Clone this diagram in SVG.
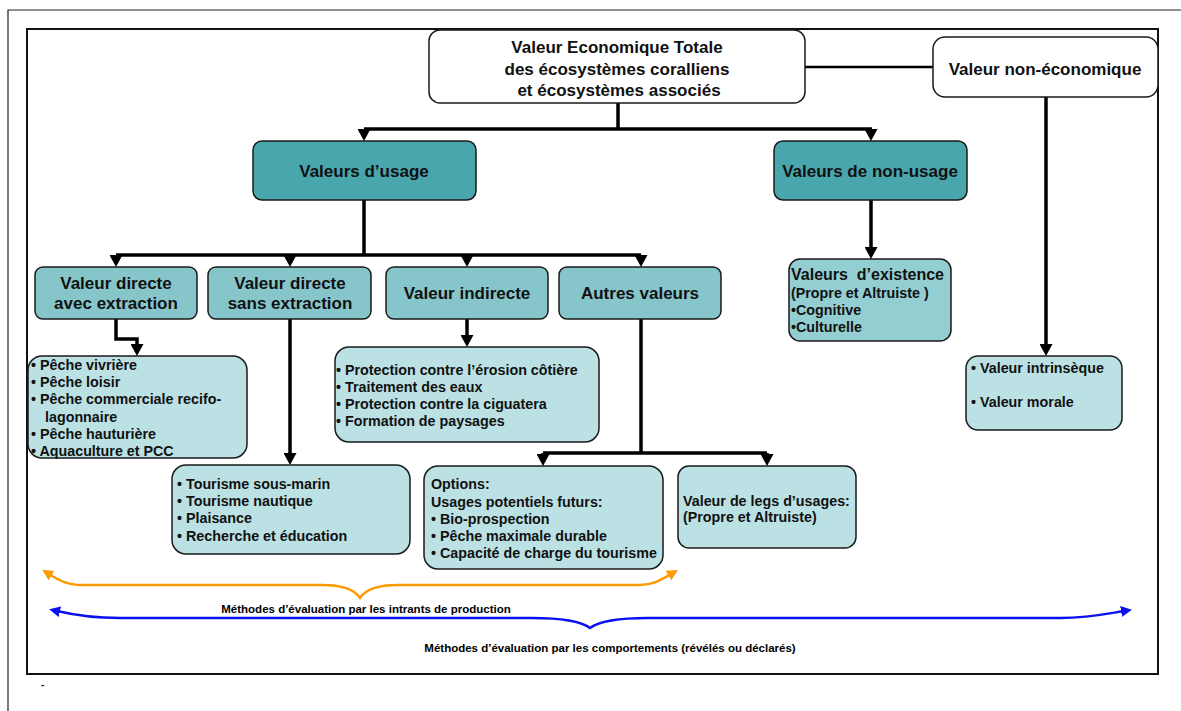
<svg xmlns="http://www.w3.org/2000/svg" width="1181" height="711" viewBox="0 0 1181 711">
  <style>
    text { font-family: "Liberation Sans", Arial, sans-serif; font-weight: bold; fill: #111; }
    .h17 { font-size: 17px; }
    .h16 { font-size: 16px; }
    .it { font-size: 14.3px; }
    .sm { font-size: 11.5px; fill: #000; }
    .mid { text-anchor: middle; }
    .box { stroke: #1a1a1a; stroke-width: 1.5; }
    .white { fill: #ffffff; }
    .teal { fill: #4aa6ad; }
    .aqua { fill: #86c6cb; }
    .aqua2 { fill: #93ced2; }
    .pale { fill: #bbe1e4; }
    .link { fill: none; stroke: #000; stroke-width: 3.5; }
    .thin { fill: none; stroke: #000; stroke-width: 2.5; }
    .orange { fill: none; stroke: #ff9900; stroke-width: 2.5; }
    .blue { fill: none; stroke: #0a10f0; stroke-width: 2.5; }
  </style>
  <defs>
    <marker id="arr" markerUnits="userSpaceOnUse" viewBox="0 0 12 13" markerWidth="12" markerHeight="13" refX="3" refY="6.5" orient="auto">
      <path d="M0,0 L12,6.5 L0,13 z" fill="#000"/>
    </marker>
    <marker id="arrO" markerUnits="userSpaceOnUse" viewBox="0 0 11 11" markerWidth="11" markerHeight="11" refX="3" refY="5.5" orient="auto-start-reverse">
      <path d="M0,0 L11,5.5 L0,11 z" fill="#ff9900"/>
    </marker>
    <marker id="arrB" markerUnits="userSpaceOnUse" viewBox="0 0 11 11" markerWidth="11" markerHeight="11" refX="3" refY="5.5" orient="auto-start-reverse">
      <path d="M0,0 L11,5.5 L0,11 z" fill="#0a10f0"/>
    </marker>
  </defs>

  <rect width="1181" height="711" fill="#ffffff"/>

  <!-- frames -->
  <path d="M8,711 L8,10 L1181,10" fill="none" stroke="#222" stroke-width="1.2"/>
  <rect x="27" y="29" width="1131" height="645" fill="none" stroke="#111" stroke-width="2"/>

  <!-- connectors -->
  <g id="connectors">
    <line class="thin" x1="805" y1="67" x2="933" y2="67"/>
    <line class="link" x1="618" y1="103" x2="618" y2="129"/>
    <path class="link" d="M364,129 L872,129"/>
    <line class="link" x1="364" y1="129" x2="364" y2="132" marker-end="url(#arr)"/>
    <line class="link" x1="871" y1="129" x2="871" y2="132" marker-end="url(#arr)"/>
    <line class="link" x1="1046" y1="97" x2="1046" y2="347" marker-end="url(#arr)"/>

    <line class="link" x1="364" y1="200" x2="364" y2="255"/>
    <path class="link" d="M116,255 L641,255"/>
    <line class="link" x1="116" y1="255" x2="116" y2="258" marker-end="url(#arr)"/>
    <line class="link" x1="290" y1="255" x2="290" y2="258" marker-end="url(#arr)"/>
    <line class="link" x1="467" y1="255" x2="467" y2="258" marker-end="url(#arr)"/>
    <line class="link" x1="641" y1="255" x2="641" y2="258" marker-end="url(#arr)"/>

    <line class="link" x1="871" y1="200" x2="871" y2="250" marker-end="url(#arr)"/>

    <path class="link" d="M116,319 L116,339 L137,339 L137,347" marker-end="url(#arr)"/>
    <line class="link" x1="290" y1="319" x2="290" y2="456" marker-end="url(#arr)"/>
    <line class="link" x1="467" y1="319" x2="467" y2="338" marker-end="url(#arr)"/>
    <line class="link" x1="641" y1="319" x2="641" y2="453"/>
    <path class="link" d="M543,453 L767,453"/>
    <line class="link" x1="543" y1="453" x2="543" y2="457" marker-end="url(#arr)"/>
    <line class="link" x1="767" y1="453" x2="767" y2="457" marker-end="url(#arr)"/>

    <!-- braces -->
    <path class="orange" d="M49,574 C60,581 68,585 82,585 L322,585 C344,585 355,590 360,598 C365,590 376,585 398,585 L640,585 C653,585 661,580 671,574" marker-start="url(#arrO)" marker-end="url(#arrO)"/>
    <path class="blue" d="M57,611 C74,615 92,618 120,618 L532,618 C565,618 582,622 590,628 C598,622 615,618 648,618 L1060,618 C1088,618 1106,614 1124,611" marker-start="url(#arrB)" marker-end="url(#arrB)"/>
  </g>

  <!-- top level -->
  <g id="vet">
    <rect class="box white" x="429" y="30" width="376" height="73" rx="11"/>
    <text class="h17 mid" x="617" y="53">Valeur Economique Totale</text>
    <text class="h17 mid" x="617" y="75">des écosystèmes coralliens</text>
    <text class="h17 mid" x="619" y="96">et écosystèmes associés</text>
  </g>
  <g id="non-eco">
    <rect class="box white" x="933" y="37" width="225" height="60" rx="12"/>
    <text class="h17 mid" x="1045" y="75">Valeur non-économique</text>
  </g>

  <g id="usage">
    <rect class="box teal" x="253" y="141" width="223" height="59" rx="9"/>
    <text class="h17 mid" x="364" y="177">Valeurs d’usage</text>
  </g>
  <g id="non-usage">
    <rect class="box teal" x="774" y="141" width="193" height="59" rx="9"/>
    <text class="h17 mid" x="870" y="177">Valeurs de non-usage</text>
  </g>

  <g id="directe-avec">
    <rect class="box aqua" x="35" y="267" width="162" height="52" rx="8"/>
    <text class="h17 mid" x="116" y="289">Valeur directe</text>
    <text class="h17 mid" x="116" y="309">avec extraction</text>
  </g>
  <g id="directe-sans">
    <rect class="box aqua" x="208" y="267" width="163" height="52" rx="8"/>
    <text class="h17 mid" x="290" y="289">Valeur directe</text>
    <text class="h17 mid" x="290" y="309">sans extraction</text>
  </g>
  <g id="indirecte">
    <rect class="box aqua" x="386" y="267" width="162" height="52" rx="8"/>
    <text class="h17 mid" x="467" y="299">Valeur indirecte</text>
  </g>
  <g id="autres">
    <rect class="box aqua" x="559" y="267" width="162" height="52" rx="8"/>
    <text class="h17 mid" x="640" y="299">Autres valeurs</text>
  </g>

  <g id="existence">
    <rect class="box aqua2" x="789" y="259" width="162" height="82" rx="11"/>
    <text class="h16" x="791" y="280" xml:space="preserve">Valeurs  d’existence</text>
    <text class="it" x="791" y="298">(Propre et Altruiste )</text>
    <text class="it" x="791" y="315">•Cognitive</text>
    <text class="it" x="791" y="332">•Culturelle</text>
  </g>

  <g id="intrinseque">
    <rect class="box pale" x="966" y="356" width="156" height="74" rx="12"/>
    <text class="it" x="971" y="373">• Valeur intrinsèque</text>
    <text class="it" x="971" y="407">• Valeur morale</text>
  </g>

  <g id="peche">
    <rect class="box pale" x="28" y="356" width="219" height="102" rx="14"/>
    <text class="it" x="31" y="370">• Pêche vivrière</text>
    <text class="it" x="31" y="387">• Pêche loisir</text>
    <text class="it" x="31" y="404">• Pêche commerciale recifo-</text>
    <text class="it" x="45" y="422">lagonnaire</text>
    <text class="it" x="31" y="439">• Pêche hauturière</text>
    <text class="it" x="31" y="456">• Aquaculture et PCC</text>
  </g>

  <g id="protection">
    <rect class="box pale" x="335" y="347" width="264" height="95" rx="14"/>
    <text class="it" x="336" y="375">• Protection contre l’érosion côtière</text>
    <text class="it" x="336" y="392">• Traitement des eaux</text>
    <text class="it" x="336" y="409">• Protection contre la ciguatera</text>
    <text class="it" x="336" y="426">• Formation de paysages</text>
  </g>

  <g id="tourisme">
    <rect class="box pale" x="172" y="465" width="238" height="89" rx="14"/>
    <text class="it" x="177" y="489">• Tourisme sous-marin</text>
    <text class="it" x="177" y="506">• Tourisme nautique</text>
    <text class="it" x="177" y="523">• Plaisance</text>
    <text class="it" x="177" y="541">• Recherche et éducation</text>
  </g>

  <g id="options">
    <rect class="box pale" x="424" y="466" width="239" height="103" rx="14"/>
    <text class="it" x="431" y="489">Options:</text>
    <text class="it" x="431" y="507">Usages potentiels futurs:</text>
    <text class="it" x="431" y="524">• Bio-prospection</text>
    <text class="it" x="431" y="541">• Pêche maximale durable</text>
    <text class="it" x="431" y="558">• Capacité de charge du tourisme</text>
  </g>

  <g id="legs">
    <rect class="box pale" x="678" y="466" width="178" height="82" rx="11"/>
    <text class="it" x="683" y="506">Valeur de legs d’usages:</text>
    <text class="it" x="683" y="522">(Propre et Altruiste)</text>
  </g>

  <!-- method labels -->
  <text class="sm mid" x="366" y="613">Méthodes d’évaluation par les intrants de production</text>
  <text class="sm mid" x="610" y="652">Méthodes d’évaluation par les comportements (révélés ou déclarés)</text>
  <text x="41" y="688" style="font-size:10px">-</text>
</svg>
